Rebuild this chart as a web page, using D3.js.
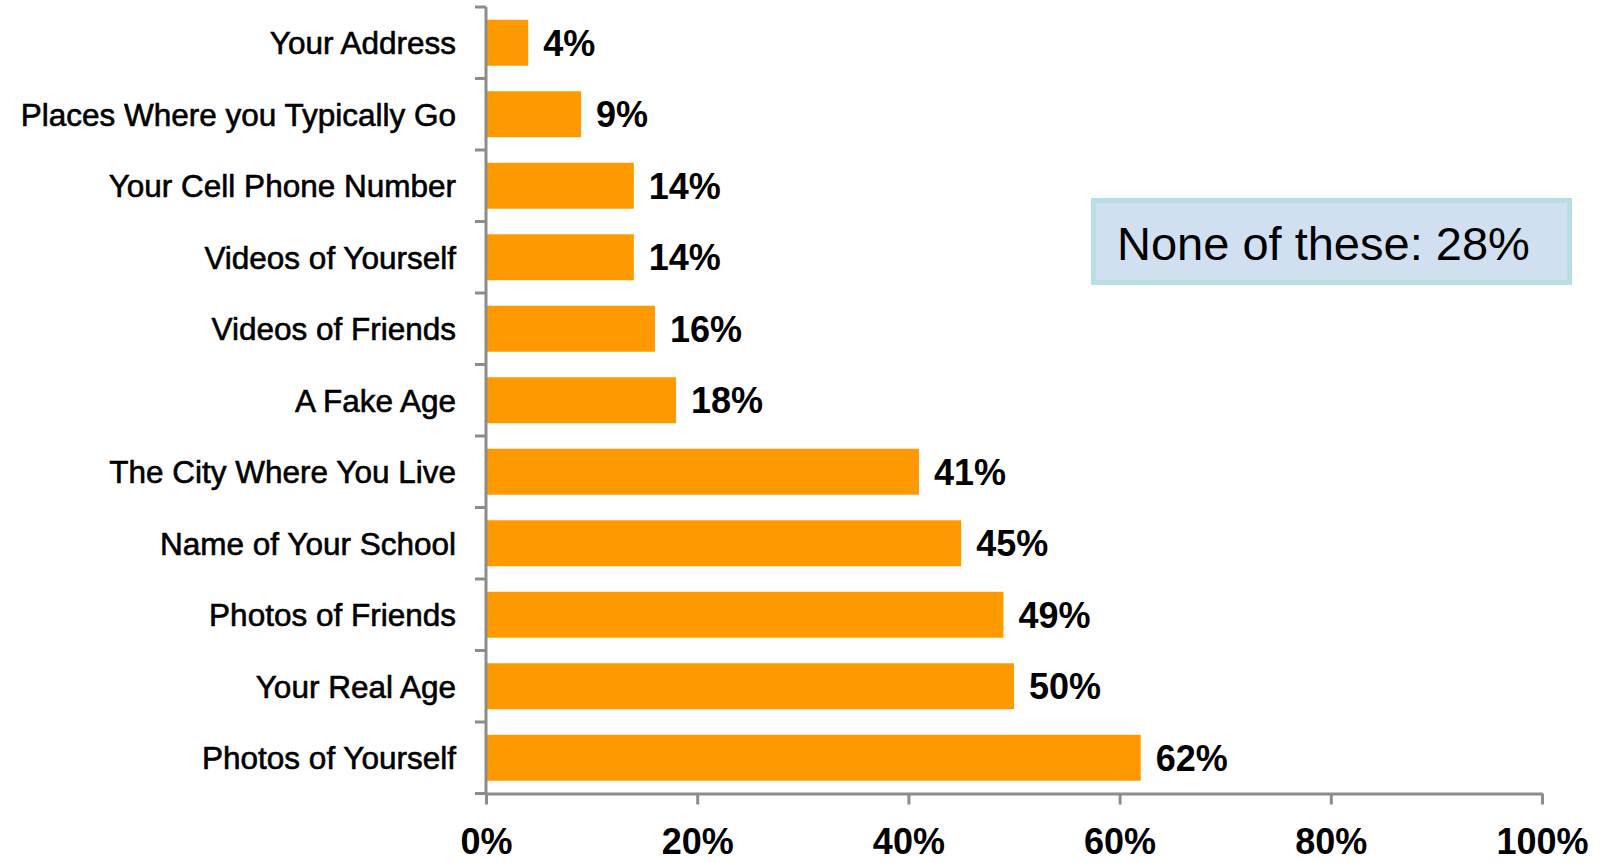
<!DOCTYPE html>
<html>
<head>
<meta charset="utf-8">
<script src="https://cdn.jsdelivr.net/npm/d3@7"></script>
<style>
  body { margin: 0; background: white; }
</style>
</head>
<body>
<div id="chart"></div>
<script>
// data
const categories = ["Your Address", "Places Where you Typically Go", "Your Cell Phone Number",
    "Videos of Yourself", "Videos of Friends", "A Fake Age", "The City Where You Live",
    "Name of Your School", "Photos of Friends", "Your Real Age", "Photos of Yourself"]
const values = [4, 9, 14, 14, 16, 18, 41, 45, 49, 50, 62]
const xTicks = [0, 20, 40, 60, 80, 100]
const noteText = "None of these: 28%"

const width = 1600
const height = 863
const axisColor = "#8c8c8c"
const barColor = "#ff9900"

const svg = d3.select("#chart").append("svg")
    .attr("width", width)
    .attr("height", height)

const x = d3.scaleLinear()
    .domain([0, 100])
    .range([486, 1542])

const y = d3.scaleBand()
    .domain(categories)
    .range([7, 793.5])
    .paddingInner(0.357)
    .paddingOuter(0.357 / 2)

// bars
svg.selectAll("rect.bar")
    .data(values)
    .enter()
    .append("rect")
    .attr("class", "bar")
    .attr("x", x(0))
    .attr("y", (d, i) => y(categories[i]))
    .attr("width", d => x(d) - x(0))
    .attr("height", y.bandwidth())
    .style("fill", barColor)

// value labels
svg.selectAll("text.value")
    .data(values)
    .enter()
    .append("text")
    .attr("class", "value")
    .attr("x", d => x(d) + 15)
    .attr("y", (d, i) => y(categories[i]) + y.bandwidth() / 2)
    .attr("dy", "0.36em")
    .style("font-family", "'Liberation Sans', Arial, sans-serif")
    .style("font-weight", "bold")
    .style("font-size", "36px")
    .style("fill", "black")
    .text(d => d + "%")

// category labels
svg.selectAll("text.cat")
    .data(categories)
    .enter()
    .append("text")
    .attr("class", "cat")
    .attr("x", 456)
    .attr("y", d => y(d) + y.bandwidth() / 2)
    .attr("dy", "0.36em")
    .attr("text-anchor", "end")
    .style("font-family", "'Liberation Sans', Arial, sans-serif")
    .style("font-size", "31.5px")
    .style("fill", "black")
    .style("stroke", "black")
    .style("stroke-width", 0.6)
    .text(d => d)

// y axis: line with ticks at band boundaries
const step = y.step()
const boundaries = d3.range(categories.length + 1).map(i => y.range()[0] + i * step)

svg.append("line")
    .attr("x1", x(0)).attr("x2", x(0))
    .attr("y1", y.range()[0]).attr("y2", y.range()[1])
    .style("stroke", axisColor)
    .style("stroke-width", 3)

svg.selectAll("line.ytick")
    .data(boundaries)
    .enter()
    .append("line")
    .attr("class", "ytick")
    .attr("x1", x(0) - 11).attr("x2", x(0))
    .attr("y1", d => d).attr("y2", d => d)
    .style("stroke", axisColor)
    .style("stroke-width", 3)

// x axis
const xAxis = svg.append("g")
    .attr("transform", "translate(0," + y.range()[1] + ")")
    .call(d3.axisBottom(x)
        .tickValues(xTicks)
        .tickSize(11)
        .tickSizeOuter(0)
        .tickFormat(d => d + "%"))

xAxis.select(".domain")
    .style("stroke", axisColor)
    .style("stroke-width", 3)

xAxis.selectAll(".tick line")
    .style("stroke", axisColor)
    .style("stroke-width", 3)

xAxis.selectAll(".tick text")
    .attr("y", 60)
    .attr("dy", null)
    .style("font-family", "'Liberation Sans', Arial, sans-serif")
    .style("font-weight", "bold")
    .style("font-size", "36px")
    .style("fill", "black")

// note box
const note = svg.append("g")

note.append("rect")
    .attr("x", 1093.5)
    .attr("y", 200.5)
    .attr("width", 476)
    .attr("height", 82)
    .style("fill", "#d1e0f0")
    .style("stroke", "#b8dee3")
    .style("stroke-width", 5)

note.append("text")
    .attr("x", 1117)
    .attr("y", 260)
    .style("font-family", "'Liberation Sans', Arial, sans-serif")
    .style("font-size", "47px")
    .style("fill", "black")
    .text(noteText)
</script>
</body>
</html>
